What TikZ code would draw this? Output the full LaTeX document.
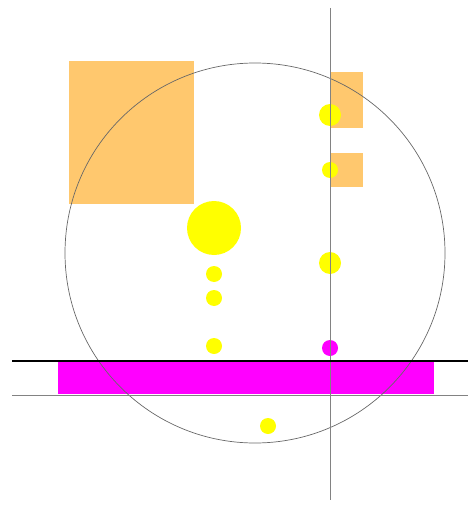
\documentclass[tikz,border=0pt]{standalone}
\definecolor{orng}{RGB}{255,200,110}
\definecolor{yel}{RGB}{255,255,0}
\definecolor{mag}{RGB}{255,0,255}
\definecolor{gline}{RGB}{130,130,130}
\begin{document}
\begin{tikzpicture}[x=1pt,y=-1pt,
  box/.style={fill=orng,draw=none},
  ydot/.style={fill=yel,draw=none},
  thinline/.style={draw=gline,line width=0.8pt}]
\useasboundingbox (0,0) rectangle (474,505);
% orange rectangles
\fill[box] (69,61) rectangle (194,204);
\fill[box] (330,72) rectangle (363,128);
\fill[box] (330,153) rectangle (363,187);
% magenta bar
\fill[mag] (58,362) rectangle (434,394);
% dots
\fill[ydot] (330,115) circle (11);
\fill[ydot] (330,170) circle (8);
\fill[ydot] (330,263) circle (11);
\fill[ydot] (214,228) circle (27);
\fill[ydot] (214,274) circle (8);
\fill[ydot] (214,298) circle (8);
\fill[ydot] (214,346) circle (8);
\fill[ydot] (268,426) circle (8);
\fill[mag] (330,348) circle (8);
% circle
\draw[draw=gline!80!black,line width=0.7pt] (255,253) circle (190);
% lines
\draw[thinline] (330,8) -- (330,500);
\draw[black,line width=1.3pt] (12,361) -- (468,361);
\draw[thinline] (12,395) -- (468,395);
\end{tikzpicture}
\end{document}
